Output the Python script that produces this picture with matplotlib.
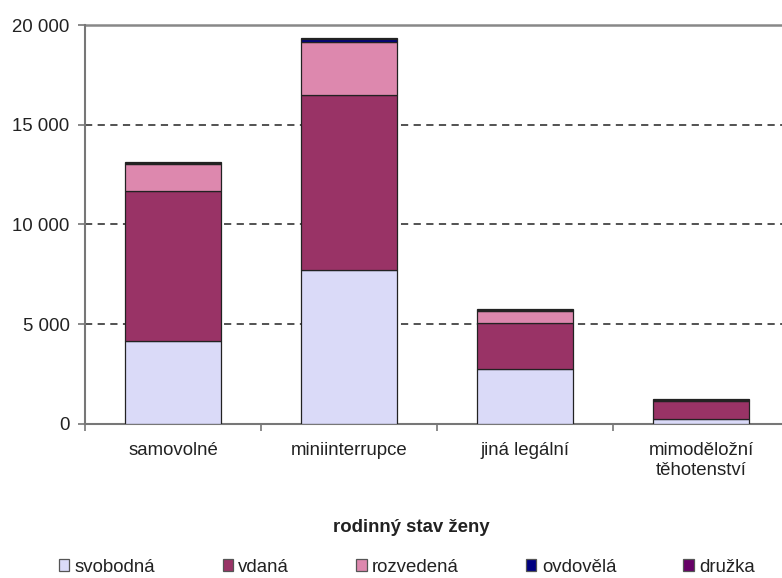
import numpy as np
import matplotlib.pyplot as plt
from matplotlib.ticker import FuncFormatter

plt.rcParams['font.family'] = ['Liberation Sans', 'DejaVu Sans']

# Počty potratů podle druhu a rodinného stavu ženy
categories = ['samovolné', 'miniinterrupce', 'jiná legální', 'mimoděložní\ntěhotenství']
series_names = ['svobodná', 'vdaná', 'rozvedená', 'ovdovělá', 'družka']
svobodna = [4150, 7700, 2780, 250]
vdana = [7550, 8800, 2270, 900]
rozvedena = [1340, 2650, 600, 40]
ovdovela = [60, 170, 60, 20]
druzka = [40, 30, 40, 30]
colors = ['#dadaf8', '#993366', '#dd88ae', '#000080', '#660066']

FS = 13.4

fig = plt.figure(figsize=(7.82, 5.78), dpi=100)
ax = fig.add_axes([85 / 782, 1 - 424 / 578, 704 / 782, 399 / 578])

x = np.arange(len(categories))
bottom = np.zeros(len(categories))
for name, vals, col in zip(series_names, [svobodna, vdana, rozvedena, ovdovela, druzka], colors):
    ax.bar(x, vals, width=0.55, bottom=bottom, color=col, edgecolor='#222222',
           linewidth=0.9, label=name, zorder=3)
    bottom += np.array(vals)

ax.set_xlim(-0.5, len(categories) - 0.5)
ax.set_ylim(0, 20000)
ax.set_yticks([0, 5000, 10000, 15000, 20000])
ax.yaxis.set_major_formatter(FuncFormatter(lambda v, p: f'{int(v):,}'.replace(',', ' ')))

# přerušované mřížky a plná horní čára
for yv in [5000, 10000, 15000]:
    ax.axhline(yv, color='#444444', lw=1.3, ls=(0, (4, 3)), zorder=1)
ax.axhline(20000, color='#888888', lw=1.8, zorder=1, clip_on=False)

for s in ['top', 'right']:
    ax.spines[s].set_visible(False)
ax.spines['left'].set_color('#777777')
ax.spines['left'].set_linewidth(1.5)
ax.spines['bottom'].set_color('#777777')
ax.spines['bottom'].set_linewidth(1.5)

ax.set_xticks(x)
ax.set_xticklabels(categories, fontsize=FS, color='#222222')
ax.tick_params(axis='x', length=0, pad=13)
ax.set_xticks(np.arange(len(categories) + 1) - 0.5, minor=True)
ax.tick_params(axis='x', which='minor', length=5, color='#777777', width=1.2)
ax.tick_params(axis='y', length=5, color='#777777', width=1.2, labelsize=FS,
               labelcolor='#222222', pad=6)

fig.text(411 / 782, 1 - 528 / 578, 'rodinný stav ženy', ha='center', va='center',
         fontsize=FS, fontweight='bold', color='#222222')

leg = fig.legend(loc='center', bbox_to_anchor=(407 / 782, 1 - 567 / 578), ncol=5,
                 frameon=False, fontsize=FS, handlelength=0.55, handleheight=0.55,
                 handletextpad=0.3, columnspacing=3.6, labelcolor='#222222')
for h in leg.legend_handles:
    h.set_edgecolor('#555555')

fig.savefig('out.png', dpi=100)
